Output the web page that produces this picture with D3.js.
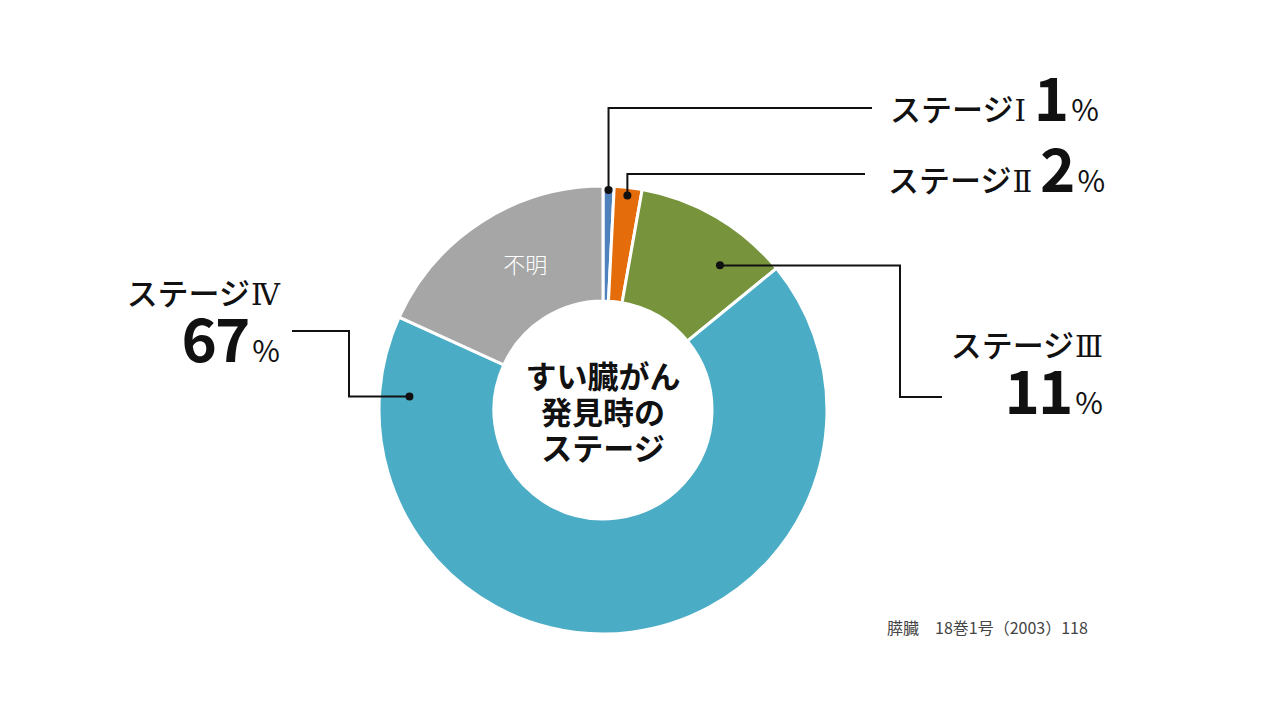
<!DOCTYPE html>
<html>
<head>
<meta charset="utf-8">
<script src="https://cdn.jsdelivr.net/npm/d3@7"></script>
<style>
  body { margin: 0; background: #fff; }
  svg { display: block; font-family: "Noto Sans CJK JP", "Noto Sans", sans-serif; }
</style>
</head>
<body>
<svg id="chart"></svg>
<script>
// slices, clockwise from 12 o'clock
const stages = ["ステージ", "ステージ", "ステージ", "ステージ", "不明"];
const numerals = ["Ⅰ", "Ⅱ", "Ⅲ", "Ⅳ", ""];
const shares = [0.8, 2.0, 11.3, 67.7, 18.2];
const pctLabels = ["1", "2", "11", "67", null];
const colors = ["#4F81BD", "#E46C0A", "#77933C", "#4BACC6", "#A6A6A6"];
const centerLines = ["すい臓がん", "発見時の", "ステージ"];
const source = "膵臓　18巻1号（2003）118";

const w = 1280;
const h = 720;
const cx = 603;
const cy = 410;
const outerR = 224;
const innerR = 109;

const svg = d3.select("#chart").attr("width", w).attr("height", h);

const pie = d3.pie().sort(null).value((d) => d)(shares);
const arc = d3.arc().innerRadius(innerR).outerRadius(outerR);

const g = svg.append("g").attr("transform", `translate(${cx},${cy})`);

g.selectAll("path.slice")
  .data(pie)
  .join("path")
  .attr("class", "slice")
  .attr("d", arc)
  .attr("fill", (d, i) => colors[i])
  .attr("stroke", "#fff")
  .attr("stroke-width", 3);

// "不明" label inside its slice
const unknown = pie[4];
const ua = unknown.startAngle + (unknown.endAngle - unknown.startAngle) * 0.575;
const up = d3.pointRadial(ua, (innerR + outerR) / 2);
g.append("text")
  .attr("x", up[0])
  .attr("y", up[1])
  .attr("text-anchor", "middle")
  .attr("dominant-baseline", "central")
  .attr("fill", "#fff")
  .attr("font-size", 22)
  .attr("font-weight", 300)
  .text(stages[4]);

// center title
const ct = g.append("text")
  .attr("text-anchor", "middle")
  .attr("font-size", 31)
  .attr("font-weight", 700)
  .attr("fill", "#111");
centerLines.forEach((t, i) => {
  ct.append("tspan").attr("x", 0).attr("y", -22 + i * 36).text(t);
});

// leader layout: where the dot sits in the slice, then the elbow route
const leaders = [
  { t: 0.5, r: 220, route: "v", turn: 108, end: 872 },
  { t: 0.5, r: 216, route: "v", turn: 174, end: 865 },
  { t: 0.71, r: 186, route: "hvh", turn: 900, endY: 397, end: 942 },
  { t: 0.916, r: 194, route: "hvh", turn: 349, endY: 331, end: 292 },
];

leaders.forEach((L, i) => {
  const s = pie[i];
  const a = s.startAngle + (s.endAngle - s.startAngle) * L.t;
  const p = d3.pointRadial(a, L.r);
  const dx = cx + p[0];
  const dy = cy + p[1];
  let pts;
  if (L.route === "v") {
    pts = [[dx, dy], [dx, L.turn], [L.end, L.turn]];
  } else {
    pts = [[dx, dy], [L.turn, dy], [L.turn, L.endY], [L.end, L.endY]];
  }
  svg.append("path")
    .attr("d", d3.line()(pts))
    .attr("fill", "none")
    .attr("stroke", "#111")
    .attr("stroke-width", 2);
  svg.append("circle")
    .attr("cx", dx)
    .attr("cy", dy)
    .attr("r", 4)
    .attr("fill", "#111");
});

function stageText(sel, i) {
  sel.append("tspan").attr("font-size", 31).attr("font-weight", 500).text(stages[i]);
  sel.append("tspan")
    .attr("font-family", "DejaVu Serif")
    .attr("font-size", 29)
    .attr("font-weight", 400)
    .attr("dx", 1)
    .text(numerals[i]);
}

function pctText(sel, num, gap) {
  sel.append("tspan")
    .attr("dx", gap)
    .attr("font-size", 60)
    .attr("font-weight", 700)
    .attr("letter-spacing", -2)
    .text(num);
  sel.append("tspan").attr("font-size", 30).attr("font-weight", 400).attr("dx", 4).text("%");
}

// Stage I and II: single line, left aligned
[[0, 890, 121], [1, 888, 192]].forEach(([i, x, y]) => {
  const t = svg.append("text").attr("x", x).attr("y", y).attr("fill", "#111");
  stageText(t, i);
  pctText(t, pctLabels[i], 8);
});

// Stage III and IV: two lines, right aligned
[[2, 1103, 357, 414], [3, 280, 305, 362]].forEach(([i, x, y1, y2]) => {
  const s = svg.append("text")
    .attr("x", x).attr("y", y1)
    .attr("text-anchor", "end")
    .attr("fill", "#111");
  stageText(s, i);
  const t = svg.append("text")
    .attr("x", x).attr("y", y2)
    .attr("text-anchor", "end")
    .attr("fill", "#111");
  pctText(t, pctLabels[i], 0);
});

svg.append("text")
  .attr("x", 887)
  .attr("y", 634)
  .attr("font-size", 16)
  .attr("fill", "#444")
  .text(source);
</script>
</body>
</html>
